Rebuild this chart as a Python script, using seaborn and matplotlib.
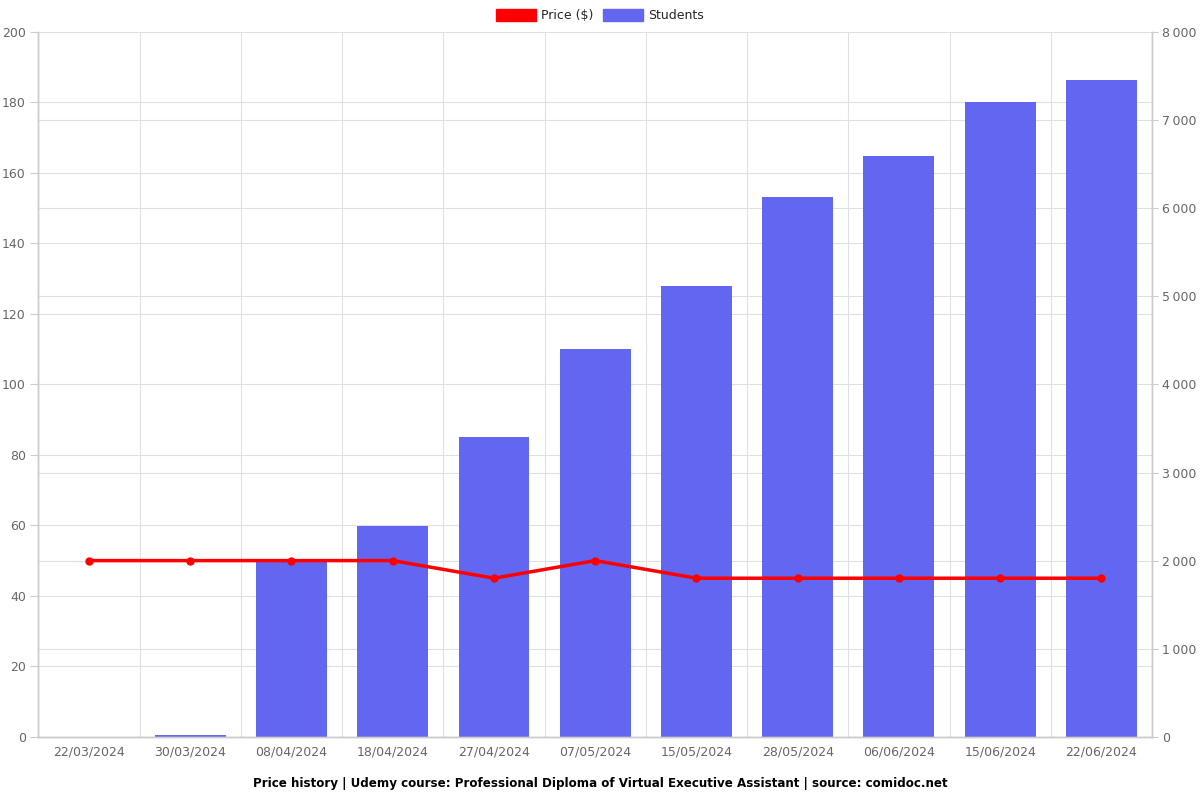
import matplotlib
matplotlib.use("Agg")
import matplotlib.pyplot as plt
import matplotlib.patches as mpatches
from matplotlib.ticker import MultipleLocator, FixedLocator, FuncFormatter
import numpy as np
import seaborn as sns

# Dữ liệu
dates = ["22/03/2024", "30/03/2024", "08/04/2024", "18/04/2024", "27/04/2024",
         "07/05/2024", "15/05/2024", "28/05/2024", "06/06/2024", "15/06/2024",
         "22/06/2024"]
price = [50, 50, 50, 50, 45, 50, 45, 45, 45, 45, 45]
students = [0, 15, 2000, 2395, 3405, 4405, 5120, 6130, 6595, 7210, 7455]

bar_color = "#6366f1"
line_color = "#ff0000"
grid_color = "#e0e0e0"
text_color = "#666666"

sns.set_style("white")
plt.rcParams["font.family"] = ["DejaVu Sans"]

fig, ax = plt.subplots(figsize=(12, 8), dpi=100)
fig.subplots_adjust(left=0.032, right=0.96, top=0.96, bottom=0.079)

# cột số học viên (trục phải)
sns.barplot(x=dates, y=students, ax=ax, color=bar_color, saturation=1,
            width=0.7, linewidth=0, zorder=2)
ax.set_ylim(0, 8000)
ax.set_xlim(-0.5, len(dates) - 0.5)
ax.set_xlabel("")
ax.set_ylabel("")

# đường giá (trục trái)
ax2 = ax.twinx()
sns.lineplot(x=np.arange(len(dates)), y=price, ax=ax2, color=line_color,
             linewidth=2.5, marker="o", markersize=6, markeredgewidth=0, zorder=3)
ax2.set_ylim(0, 200)
ax2.set_ylabel("")
ax2.grid(False)

# đổi vị trí nhãn trục: giá bên trái, học viên bên phải
ax.yaxis.tick_right()
ax2.yaxis.tick_left()

ax.yaxis.set_major_locator(MultipleLocator(1000))
ax.yaxis.set_minor_locator(MultipleLocator(800))
ax.yaxis.set_major_formatter(FuncFormatter(lambda v, p: f"{int(v):,}".replace(",", "\u2009")))
ax.set_axisbelow(True)
ax.grid(True, which="both", axis="y", color=grid_color, linewidth=0.8)
ax.tick_params(axis="y", which="minor", length=0)
ax.tick_params(axis="y", which="major", length=4, color="#cccccc", labelsize=9,
               labelcolor=text_color, pad=3)

# lưới dọc ở ranh giới các cột, nhãn ở giữa
ax.xaxis.set_major_locator(FixedLocator(np.arange(len(dates) + 1) - 0.5))
ax.xaxis.set_minor_locator(FixedLocator(np.arange(len(dates))))
ax.set_xticklabels([], minor=False)
ax.set_xticklabels(dates, minor=True)
ax.grid(True, which="major", axis="x", color=grid_color, linewidth=0.8)
ax.tick_params(axis="x", which="minor", length=0, pad=6, labelsize=9, colors=text_color)
ax.tick_params(axis="x", which="major", length=5, color="#cccccc")

ax2.yaxis.set_major_locator(MultipleLocator(20))
ax2.tick_params(axis="y", length=6, color="#cccccc", labelsize=9,
                labelcolor=text_color, pad=3)

for a in (ax, ax2):
    for side in ("left", "right", "bottom"):
        a.spines[side].set_color("#cccccc")
        a.spines[side].set_linewidth(1)
    a.spines["top"].set_visible(False)
ax.spines["bottom"].set_color("#bbbbbb")

handles = [mpatches.Patch(color=line_color, label="Price ($)"),
           mpatches.Patch(color=bar_color, label="Students")]
fig.legend(handles=handles, loc="center", bbox_to_anchor=(0.5, 0.981), ncol=2,
           frameon=False, fontsize=9, handlelength=3.2, handleheight=1.1,
           columnspacing=0.8, handletextpad=0.4)

fig.text(0.5, 0.021, "Price history | Udemy course: Professional Diploma of Virtual Executive Assistant | source: comidoc.net",
         ha="center", va="center", fontsize=8.6, fontweight="bold", color="black")

plt.savefig("out.png", dpi=100)
plt.close()
